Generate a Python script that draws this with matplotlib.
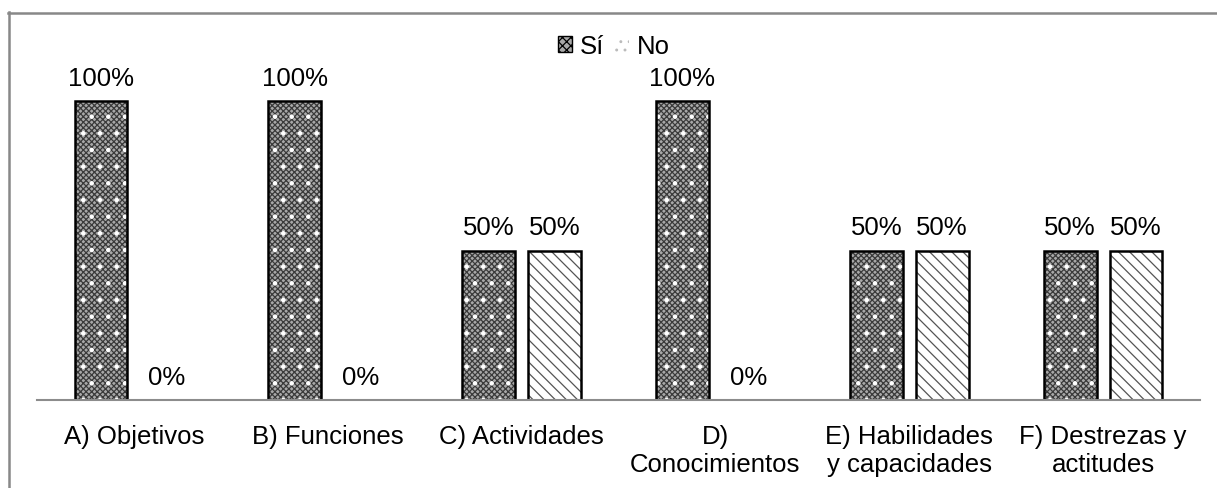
import matplotlib
matplotlib.use('Agg')
from matplotlib import pyplot as plt
from matplotlib.patches import Patch
from matplotlib.lines import Line2D
import numpy as np

categories = ['A) Objetivos', 'B) Funciones', 'C) Actividades',
              'D)\nConocimientos', 'E) Habilidades\ny capacidades',
              'F) Destrezas y\nactitudes']
si_values = [1.0, 1.0, 0.5, 1.0, 0.5, 0.5]
no_values = [0.0, 0.0, 0.5, 0.0, 0.5, 0.5]
series_names = ['Sí', 'No']

plt.rcParams['font.family'] = ['Liberation Sans', 'DejaVu Sans']
plt.rcParams['hatch.linewidth'] = 0.9
FS = 18.5

W, H = 1217, 489
fig = plt.figure(figsize=(W / 100, H / 100), dpi=100)
ax = fig.add_axes([37 / W, 1 - 401 / H, 1163 / W, 1.2 * 299 / H])

idx = np.arange(len(categories))
bw = 0.273
off = 0.17


def si_bars(x, vals):
    # grey checker with sparse white dots on top
    ax.bar(x, vals, bw, color='#a8a8a8', edgecolor='#3a3a3a', hatch='xxxxxx', linewidth=0)
    ax.bar(x, vals, bw, color='none', edgecolor='white', hatch='.', linewidth=0)
    return ax.bar(x, vals, bw, color='none', edgecolor='black', linewidth=1.8)


def no_bars(x, vals):
    ax.bar(x, vals, bw, color='white', edgecolor='#555555', hatch='\\\\\\', linewidth=0)
    return ax.bar(x, vals, bw, color='none', edgecolor='black', linewidth=1.8)


b_si = si_bars(idx - off, si_values)
b_no = no_bars(idx + off, no_values)

for bars, vals in ((b_si, si_values), (b_no, no_values)):
    ax.bar_label(bars, labels=['%d%%' % round(v * 100) for v in vals],
                 padding=8, fontsize=FS)

ax.set_xlim(-0.5, len(categories) - 0.5)
ax.set_ylim(0, 1.2)
ax.set_xticks(idx)
ax.set_xticklabels(categories, fontsize=FS, linespacing=1.25)
ax.tick_params(axis='x', length=0, pad=17)
ax.set_yticks([])
for s in ('top', 'right', 'left'):
    ax.spines[s].set_visible(False)
ax.spines['bottom'].set_color('#8c8c8c')
ax.spines['bottom'].set_linewidth(1.5)

# legend
h_si = Patch(facecolor='#a8a8a8', edgecolor='black', hatch='xxxx', linewidth=1)
h_no = Patch(facecolor='white', edgecolor='#bbbbbb', hatch='..', linewidth=0)
fig.legend([h_si, h_no], series_names, loc='center', ncol=2,
           bbox_to_anchor=(614 / W, 1 - 47 / H), frameon=False, fontsize=FS,
           handlelength=0.55, handleheight=0.55, handletextpad=0.3, columnspacing=0.4)

# outer frame (cut off at right/bottom)
fig.add_artist(Line2D([8.5 / W, 8.5 / W], [0, 1 - 13 / H], transform=fig.transFigure,
                      color='#888888', linewidth=1.8))
fig.add_artist(Line2D([8 / W, 1], [1 - 13.5 / H, 1 - 13.5 / H], transform=fig.transFigure,
                      color='#888888', linewidth=1.8))

fig.savefig('out.png', dpi=100)
